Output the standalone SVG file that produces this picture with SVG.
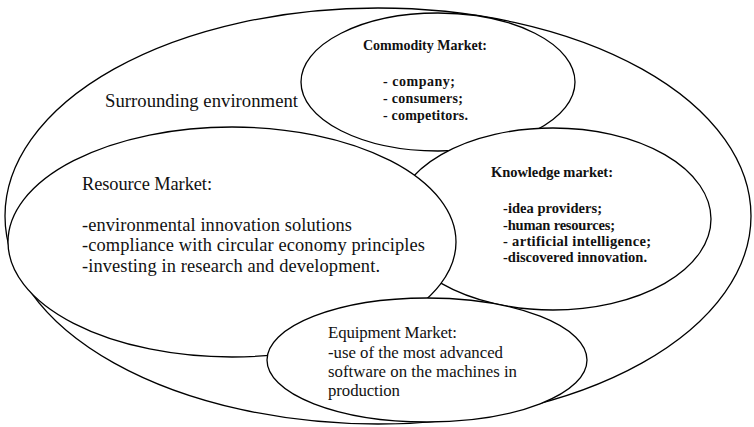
<svg xmlns="http://www.w3.org/2000/svg" width="754" height="427" viewBox="0 0 754 427">
<style>
.e{fill:#fff;stroke:#000;stroke-width:1.3}
text{font-family:'Liberation Serif','DejaVu Serif','Times New Roman',serif;fill:#111}
.g{font-size:18.7px}
.s{font-size:18.4px}
.c{font-size:14px;font-weight:bold}
.k{font-size:14.5px;font-weight:bold}
.m{font-size:16.8px}
</style>
<rect width="754" height="427" fill="#fff"/>
<g id="surrounding">
<ellipse class="e" cx="378" cy="216" rx="373" ry="208"/>
<text class="g" x="105" y="107" textLength="193">Surrounding environment</text>
</g>
<g id="commodity">
<ellipse class="e" cx="438" cy="82" rx="137" ry="69"/>
<text class="c" x="363" y="50" textLength="124">Commodity Market:</text>
<text class="c" x="383" y="86" textLength="72">- company;</text>
<text class="c" x="383" y="103" textLength="80">- consumers;</text>
<text class="c" x="383" y="120" textLength="85">- competitors.</text>
</g>
<g id="knowledge">
<ellipse class="e" cx="553" cy="219" rx="158" ry="91"/>
<text class="k" x="491" y="177" textLength="122">Knowledge market:</text>
<text class="k" x="503" y="213" textLength="99">-idea providers;</text>
<text class="k" x="503" y="230" textLength="112">-human resources;</text>
<text class="k" x="503" y="246" textLength="148">- artificial intelligence;</text>
<text class="k" x="503" y="262" textLength="144">-discovered innovation.</text>
</g>
<g id="resource">
<ellipse class="e" cx="232" cy="242" rx="224" ry="115"/>
<text class="s" x="82" y="190" textLength="130">Resource Market:</text>
<text class="s" x="82" y="231" textLength="270">-environmental innovation solutions</text>
<text class="s" x="82" y="251" textLength="343">-compliance with circular economy principles</text>
<text class="s" x="82" y="272" textLength="298">-investing in research and development.</text>
</g>
<g id="equipment">
<ellipse class="e" cx="427" cy="360" rx="160" ry="62"/>
<text class="m" x="328" y="338" textLength="129">Equipment Market:</text>
<text class="m" x="328" y="358" textLength="175">-use of the most advanced</text>
<text class="m" x="328" y="377" textLength="189">software on the machines in</text>
<text class="m" x="328" y="396" textLength="72">production</text>
</g>
<g id="connectors"/>
</svg>
